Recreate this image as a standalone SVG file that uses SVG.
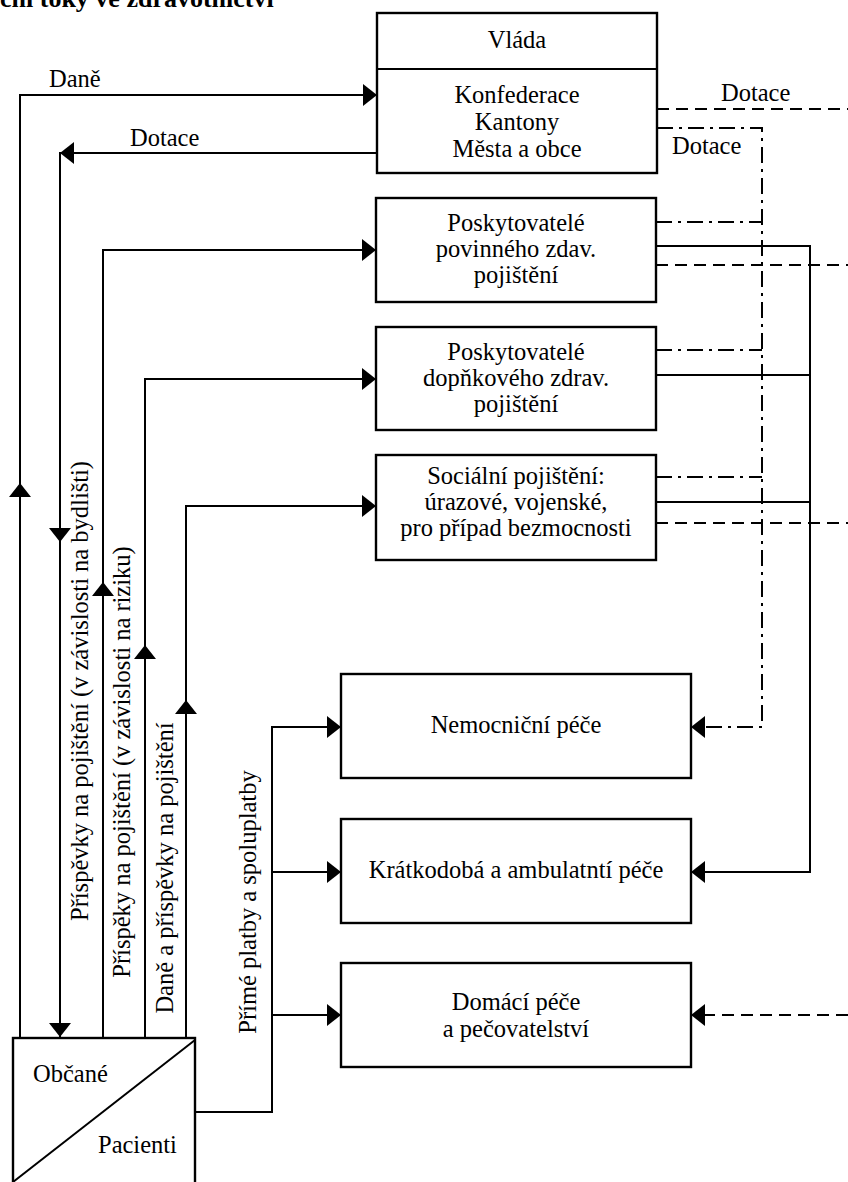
<svg xmlns="http://www.w3.org/2000/svg" width="848" height="1182" viewBox="0 0 848 1182">
<defs>
<style>
.box{fill:#fff;stroke:#000;stroke-width:2.4}
.ln{fill:none;stroke:#000;stroke-width:2}
.dash{stroke-dasharray:12 7}
.dd{stroke-dasharray:16 6 3 6}
text{font-family:"Liberation Serif","Times New Roman",serif;font-size:24.5px;fill:#000}
.c{text-anchor:middle}
.title{font-weight:bold;font-size:26px}
</style>
<path id="ah" d="M0,0 L-14,-11 L-14,11 Z" fill="#000"/>
</defs>
<rect width="848" height="1182" fill="#fff"/>
<text class="title" x="0" y="7">ční toky ve zdravotnictví</text>

<g id="connectors">
  <path class="ln" d="M20,1038 V95 H377"/>
  <path class="ln" d="M377,153 H60 V1038"/>
  <path class="ln" d="M103,1038 V250 H376"/>
  <path class="ln" d="M145,1038 V379 H376"/>
  <path class="ln" d="M186,1038 V506 H376"/>
  <path class="ln" d="M195,1112 H272 V727 H341"/>
  <path class="ln" d="M272,872 H341"/>
  <path class="ln" d="M272,1015 H341"/>
  <path class="ln dash" d="M657,109 H848"/>
  <path class="ln dash" d="M656,265 H848"/>
  <path class="ln dash" d="M656,523 H848"/>
  <path class="ln dash" d="M848,1015 H691"/>
  <path class="ln dd" d="M657,128 H762 V727 H691"/>
  <path class="ln dd" d="M656,222 H762"/>
  <path class="ln dd" d="M656,350 H762"/>
  <path class="ln dd" d="M656,477 H762"/>
  <path class="ln" d="M656,246 H810 V872 H691"/>
  <path class="ln" d="M656,375 H810"/>
  <path class="ln" d="M656,502 H810"/>
  <use href="#ah" transform="translate(377,95)"/>
  <use href="#ah" transform="translate(20,483) rotate(-90)"/>
  <use href="#ah" transform="translate(60,153) rotate(180)"/>
  <use href="#ah" transform="translate(60,542) rotate(90)"/>
  <use href="#ah" transform="translate(60,1037) rotate(90)"/>
  <use href="#ah" transform="translate(376,250)"/>
  <use href="#ah" transform="translate(103,582) rotate(-90)"/>
  <use href="#ah" transform="translate(376,379)"/>
  <use href="#ah" transform="translate(145,645) rotate(-90)"/>
  <use href="#ah" transform="translate(376,506)"/>
  <use href="#ah" transform="translate(186,700) rotate(-90)"/>
  <use href="#ah" transform="translate(341,727)"/>
  <use href="#ah" transform="translate(341,872)"/>
  <use href="#ah" transform="translate(341,1015)"/>
  <use href="#ah" transform="translate(691,727) rotate(180)"/>
  <use href="#ah" transform="translate(691,872) rotate(180)"/>
  <use href="#ah" transform="translate(691,1015) rotate(180)"/>
  <text x="49" y="87">Daně</text>
  <text x="130" y="146">Dotace</text>
  <text x="721" y="101">Dotace</text>
  <text x="672" y="154">Dotace</text>
  <text class="c" transform="translate(88,691) rotate(-90)">Příspěvky na pojištění (v závislosti na bydlišti)</text>
  <text class="c" transform="translate(130,762) rotate(-90)">Příspěky na pojištění (v závislosti na riziku)</text>
  <text class="c" transform="translate(173,868) rotate(-90)">Daně a příspěvky na pojištění</text>
  <text class="c" transform="translate(256,902) rotate(-90)">Přímé platby a spoluplatby</text>
</g>

<g id="vlada">
  <rect class="box" x="377" y="13" width="280" height="160"/>
  <line class="ln" x1="377" y1="69" x2="657" y2="69" stroke-width="2.4"/>
  <text class="c" x="517" y="48">Vláda</text>
  <text class="c" x="517" y="103">Konfederace</text>
  <text class="c" x="517" y="130">Kantony</text>
  <text class="c" x="517" y="157">Města a obce</text>
</g>

<g id="povinne">
  <rect class="box" x="376" y="198" width="280" height="104"/>
  <text class="c" x="516" y="231">Poskytovatelé</text>
  <text class="c" x="516" y="257">povinného zdav.</text>
  <text class="c" x="516" y="283">pojištění</text>
</g>

<g id="doplnkove">
  <rect class="box" x="376" y="327" width="280" height="103"/>
  <text class="c" x="516" y="360">Poskytovatelé</text>
  <text class="c" x="516" y="386">dopňkového zdrav.</text>
  <text class="c" x="516" y="412">pojištění</text>
</g>

<g id="socialni">
  <rect class="box" x="376" y="455" width="280" height="105"/>
  <text class="c" x="516" y="484">Sociální pojištění:</text>
  <text class="c" x="516" y="510">úrazové, vojenské,</text>
  <text class="c" x="516" y="536">pro případ bezmocnosti</text>
</g>

<g id="nemocnicni">
  <rect class="box" x="341" y="674" width="350" height="104"/>
  <text class="c" x="516" y="733">Nemocniční péče</text>
</g>

<g id="kratkodoba">
  <rect class="box" x="341" y="819" width="350" height="104"/>
  <text class="c" x="516" y="878">Krátkodobá a ambulatntí péče</text>
</g>

<g id="domaci">
  <rect class="box" x="341" y="963" width="350" height="104"/>
  <text class="c" x="516" y="1010">Domácí péče</text>
  <text class="c" x="516" y="1037">a pečovatelství</text>
</g>

<g id="obcane">
  <rect class="box" x="13" y="1038" width="182" height="160"/>
  <line class="ln" x1="195" y1="1040" x2="13" y2="1182"/>
  <text x="33" y="1082">Občané</text>
  <text x="98" y="1153">Pacienti</text>
</g>
</svg>
